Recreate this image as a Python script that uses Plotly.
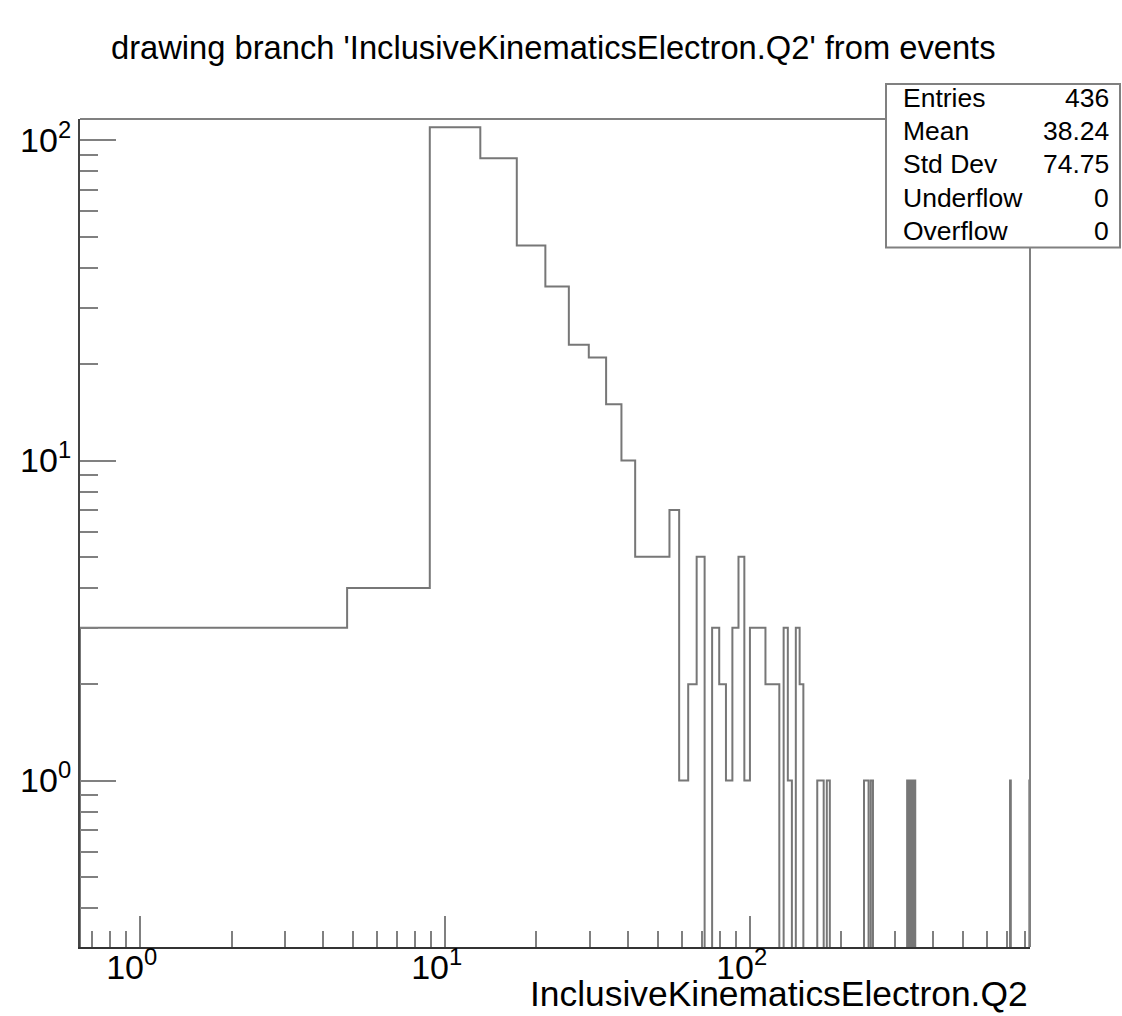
import plotly.graph_objects as go
import numpy as np

# ---------------- data ----------------
title_text = "drawing branch 'InclusiveKinematicsElectron.Q2' from events"
x_title = "InclusiveKinematicsElectron.Q2"

x_min = 0.637        # histogram lower edge
bin_width = 4.15     # uniform bin width
n_bins = 200

# non-empty bins (bin index -> entries)
bin_index = [0, 1, 2, 3, 4, 5, 6, 7, 8, 9, 10, 11, 12, 13, 14, 15, 16, 18, 19, 20,
             21, 22, 23, 24, 25, 26, 27, 28, 29, 31, 32, 34, 35, 40, 41, 43, 57, 58,
             60, 79, 81, 83, 172, 199]
bin_count = [3, 4, 110, 88, 47, 35, 23, 21, 15, 10, 5, 5, 5, 7, 1, 2, 5, 3, 2, 1,
             3, 5, 1, 3, 3, 3, 2, 2, 2, 3, 1, 3, 2, 1, 1, 1, 1, 1,
             1, 1, 1, 1, 1, 1]

stats_labels = ["Entries", "Mean", "Std Dev", "Underflow", "Overflow"]
stats_values = ["436", "38.24", "74.75", "0", "0"]

x_major = [1, 10, 100]
x_major_text = ["10<sup>0</sup>", "10<sup>1</sup>", "10<sup>2</sup>"]
x_minor = [0.7, 0.8, 0.9, 2, 3, 4, 5, 6, 7, 8, 9, 20, 30, 40, 50, 60, 70, 80, 90,
           200, 300, 400, 500, 600, 700, 800]
y_major = [1, 10, 100]
y_major_text = ["10<sup>0</sup>", "10<sup>1</sup>", "10<sup>2</sup>"]
y_minor = [0.4, 0.5, 0.6, 0.7, 0.8, 0.9, 2, 3, 4, 5, 6, 7, 8, 9,
           20, 30, 40, 50, 60, 70, 80, 90]

y_lo, y_hi = 0.302, 116.7

# ---------------- build histogram outline ----------------
counts = np.zeros(n_bins)
for i, c in zip(bin_index, bin_count):
    counts[i] = c
edges = x_min + bin_width * np.arange(n_bins + 1)
floor = 1e-3
vals = np.where(counts > 0, counts, floor)
xs = [edges[0]] + list(edges[:-1]) + [edges[-1], edges[-1]]
ys = [floor] + list(vals) + [vals[-1], floor]

# ---------------- layout geometry ----------------
W, H = 1122, 1016
L, R, T, B = 80, 1030, 119.3, 946.7
PW, PH = R - L, B - T

def px(x):
    return (x - L) / PW

def py(y):
    return 1 - (y - T) / PH

FONT = "Liberation Sans, Arial, Helvetica, sans-serif"

fig = go.Figure()
fig.add_trace(go.Scatter(x=xs, y=ys, mode="lines", line_shape="hv",
                         line=dict(color="#777777", width=2),
                         hoverinfo="skip", showlegend=False))

fig.update_layout(
    width=W, height=H,
    margin=dict(l=L, r=W - R, t=T, b=H - B),
    paper_bgcolor="white", plot_bgcolor="white",
    font=dict(family=FONT, color="black"),
    showlegend=False,
)

fig.update_xaxes(
    type="log",
    range=[np.log10(edges[0]), np.log10(edges[-1])],
    showgrid=False, zeroline=False,
    showline=True, linecolor="#333", linewidth=2,
    ticks="inside", ticklen=31, tickwidth=1.5, tickcolor="#808080",
    tickmode="array", tickvals=x_major, ticktext=x_major_text,
    tickfont=dict(size=34, family=FONT, color="black"),
    ticklabelstandoff=-11, ticklabelshift=-8,
    minor=dict(ticks="inside", ticklen=16, tickwidth=1.5, tickcolor="#808080",
               tickmode="array", tickvals=x_minor, showgrid=False),
)
fig.update_yaxes(
    type="log",
    range=[np.log10(y_lo), np.log10(y_hi)],
    showgrid=False, zeroline=False,
    showline=True, linecolor="#444", linewidth=2,
    ticks="inside", ticklen=36, tickwidth=1.5, tickcolor="#808080",
    tickmode="array", tickvals=y_major, ticktext=y_major_text,
    tickfont=dict(size=34, family=FONT, color="black"),
    minor=dict(ticks="inside", ticklen=18, tickwidth=1.5, tickcolor="#808080",
               tickmode="array", tickvals=y_minor, showgrid=False),
)

# top and right frame edges
fig.add_shape(type="line", xref="paper", yref="paper", x0=0, x1=1, y0=1, y1=1,
              line=dict(color="#808080", width=2))
fig.add_shape(type="line", xref="paper", yref="paper", x0=1, x1=1, y0=0, y1=1,
              line=dict(color="#808080", width=2))

# title
fig.add_annotation(text=title_text, xref="paper", yref="paper",
                   x=px(553), y=py(48), xanchor="center", yanchor="middle",
                   showarrow=False, font=dict(size=32.7, family=FONT, color="black"))
# x-axis title
fig.add_annotation(text=x_title, xref="paper", yref="paper",
                   x=px(1030), y=py(994), xanchor="right", yanchor="middle",
                   showarrow=False, font=dict(size=35.4, family=FONT, color="black"))

# stats box
fig.add_shape(type="rect", xref="paper", yref="paper",
              x0=px(886), x1=px(1120), y0=py(247.7), y1=py(84.3),
              fillcolor="white", line=dict(color="#808080", width=2), layer="above")
row_y = [98.3, 131.5, 164.7, 197.9, 231.1]
for lab, val, yy in zip(stats_labels, stats_values, row_y):
    fig.add_annotation(text=lab, xref="paper", yref="paper", x=px(901), y=py(yy),
                       xanchor="left", yanchor="middle", showarrow=False,
                       font=dict(size=26.5, family=FONT, color="black"))
    fig.add_annotation(text=val, xref="paper", yref="paper", x=px(1111), y=py(yy),
                       xanchor="right", yanchor="middle", showarrow=False,
                       font=dict(size=26.5, family=FONT, color="black"))

fig.write_html("out.html")
